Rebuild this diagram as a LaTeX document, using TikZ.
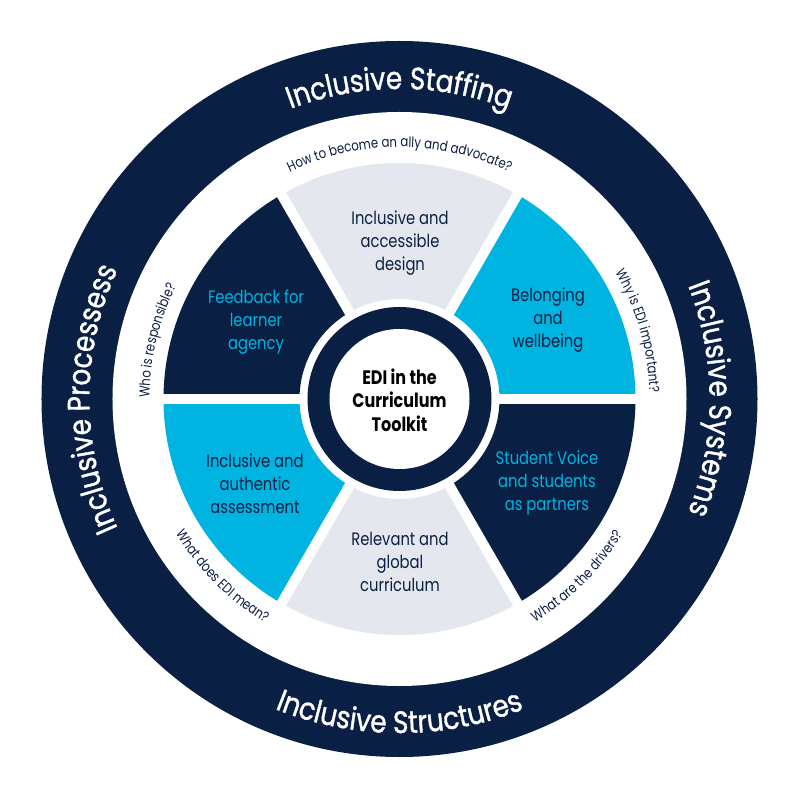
\documentclass[tikz,border=0pt]{standalone}
\usepackage{fontspec}
\setmainfont{Poppins}[FakeStretch=0.82]
\newfontfamily\ringfont{Poppins}[FakeStretch=0.85,FakeBold=1.2]
\usetikzlibrary{decorations.text}
\definecolor{navy}{HTML}{0A1F44}
\definecolor{cyanx}{HTML}{00B4E1}
\definecolor{lgray}{HTML}{E4E8EE}
\tikzset{
  wtext/.style={align=center, inner sep=0pt, font=\fontsize{18}{23}\selectfont},
  ctext/.style={align=center, inner sep=0pt, text=black, font=\bfseries\fontsize{19.5}{23.5}\selectfont},
}
\newcommand\qcw[4]{% radius, start, end, text
  \path[decorate, decoration={text along path, text align=center,
    text={|\color{navy}\fontsize{14.3}{14.3}\selectfont|#4}}]
    (#2:#1) arc[start angle=#2, end angle=#3, radius=#1];}
\newcommand\rlabel[4]{% radius, start, end, text
  \path[decorate, decoration={text along path, text align=center,
    text={|\color{white}\ringfont\fontsize{31}{31}\selectfont|#4}}]
    (#2:#1) arc[start angle=#2, end angle=#3, radius=#1];}
\begin{document}
\begin{tikzpicture}[x=1pt,y=1pt]
\useasboundingbox (-399.5,-401) rectangle (400.5,399);
\fill[white] (-399.5,-401) rectangle (400.5,399);
% outer ring
\fill[navy] (0,0) circle (358);
\fill[white] (0,0) circle (287);
% wedges
\foreach \a/\c in {0/cyanx,60/lgray,120/navy,180/cyanx,240/lgray,300/navy}{
  \fill[\c] (\a:100) -- (\a:236) arc[start angle=\a, end angle={\a+60}, radius=236]
    -- ({\a+60}:100) arc[start angle={\a+60}, end angle=\a, radius=100] -- cycle;
}
\foreach \a in {0,60,...,300}{
  \draw[white, line width=10pt] (0,0) -- (\a:245);
}
% centre ring
\fill[navy] (0,0) circle (92);
\fill[white] (0,0) circle (70);
% wedge texts
\node[wtext, text=navy] (design) at (0.5,156) {Inclusive and\\accessible\\design};
\node[wtext, text=navy] (belong) at (148.5,79) {Belonging\\and\\wellbeing};
\node[wtext, text=cyanx] (voice) at (147.5,-84) {Student Voice\\and students\\as partners};
\node[wtext, text=navy] (relevant) at (0.5,-163) {Relevant and\\global\\curriculum};
\node[wtext, text=navy] (assess) at (-144.5,-85) {Inclusive and\\authentic\\assessment};
\node[wtext, text=cyanx] (feedback) at (-143.5,77) {Feedback for\\learner\\agency};
\node[ctext] (centre) at (0,-1) {EDI in the\\Curriculum\\Toolkit};
% questions
\qcw{252}{130}{50}{How to become an ally and advocate?}
\qcw{250}{46}{-14}{Why is EDI important?}
\qcw{250}{196.5}{136.5}{Who is responsible?}
\qcw{261}{195}{255}{What does EDI mean?}
\qcw{261}{285}{345}{What are the drivers?}
% ring labels
\rlabel{310}{150}{30}{Inclusive Staffing}
\rlabel{310}{60}{-60}{Inclusive Systems}
\rlabel{310}{240}{120}{Inclusive Processess}
\rlabel{334}{210}{330}{Inclusive Structures}
\end{tikzpicture}
\end{document}
